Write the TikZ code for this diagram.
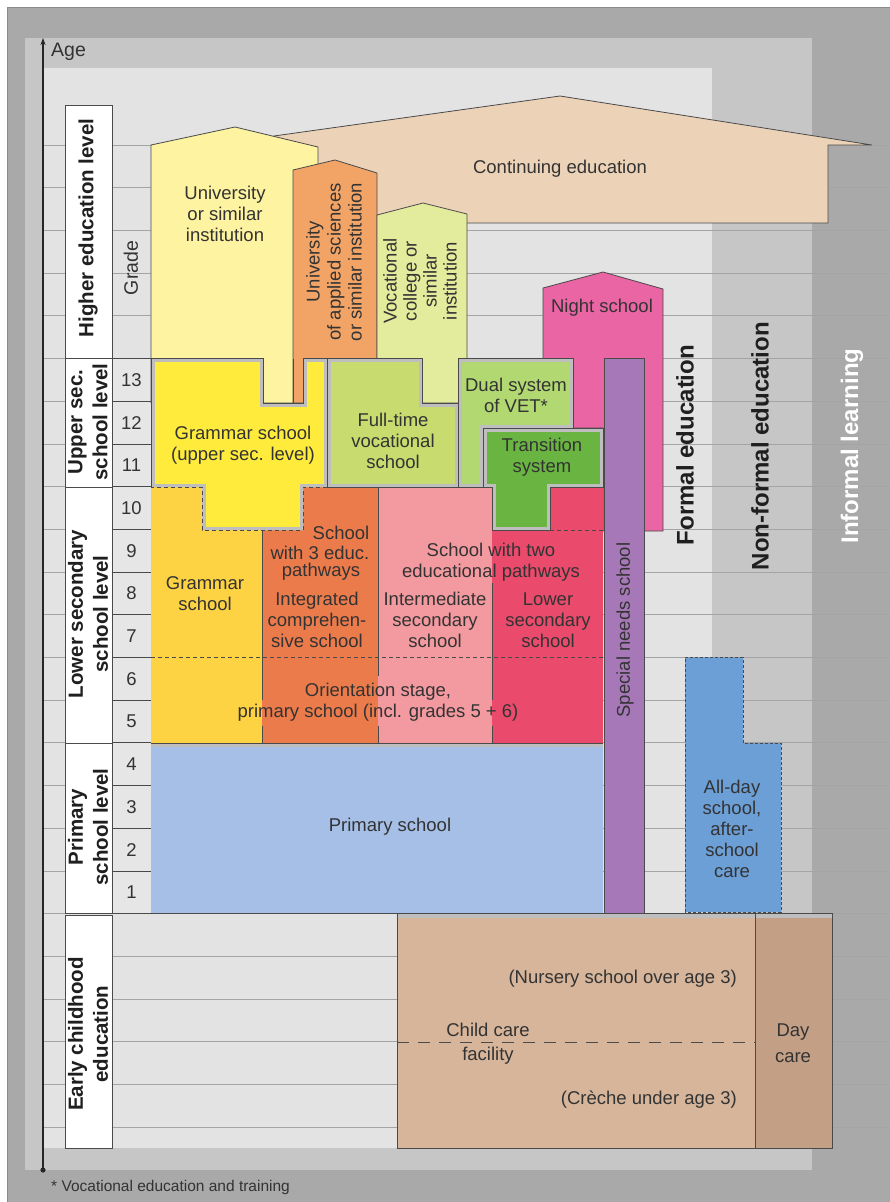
\documentclass[tikz,border=0pt]{standalone}
\usepackage{fontspec}
\setmainfont{Liberation Sans}
\usetikzlibrary{arrows.meta}
\definecolor{outerc}{HTML}{A9A9A9}
\definecolor{framec}{HTML}{8A8A8A}
\definecolor{midc}{HTML}{C6C6C6}
\definecolor{lightc}{HTML}{E3E3E3}
\definecolor{gridc}{HTML}{A4A4A4}
\definecolor{linec}{HTML}{4A4A4A}
\definecolor{bandc}{HTML}{BEBEBE}
\definecolor{txtc}{HTML}{333333}
\definecolor{gradec}{HTML}{E6E6E6}
\definecolor{contc}{HTML}{ECD3B8}
\definecolor{unic}{HTML}{FDF3A0}
\definecolor{fhc}{HTML}{F2A466}
\definecolor{vcc}{HTML}{E3EB9C}
\definecolor{nightc}{HTML}{EA65A3}
\definecolor{gupc}{HTML}{FEEB3C}
\definecolor{ftc}{HTML}{C8DB6E}
\definecolor{dualc}{HTML}{B2D872}
\definecolor{transc}{HTML}{6AB542}
\definecolor{glowc}{HTML}{FED343}
\definecolor{igsc}{HTML}{EC7B4B}
\definecolor{intc}{HTML}{F39AA0}
\definecolor{lowc}{HTML}{EA4A6B}
\definecolor{primc}{HTML}{A5BFE6}
\definecolor{specc}{HTML}{A778B8}
\definecolor{alldayc}{HTML}{6D9FD7}
\definecolor{childc}{HTML}{D6B59A}
\definecolor{dayc}{HTML}{C39F85}
\newcommand{\bandshape}[2]{%
  \fill[#1] #2;
  \begin{scope}\clip #2; \draw[bandc, line width=7pt] #2; \end{scope}}
\begin{document}
\begin{tikzpicture}[x=1pt,y=-1pt,
  txt/.style={font=\fontsize{18.5}{21}\selectfont, text=txtc, align=center, inner sep=0pt},
  lbl/.style={font=\bfseries\fontsize{20.5}{25}\selectfont, text=black!88, align=center, inner sep=0pt, rotate=90},
  big/.style={font=\bfseries\fontsize{24}{28}\selectfont, inner sep=0pt, rotate=90},
  outl/.style={draw=linec, line width=0.8pt},
  gridl/.style={draw=gridc, line width=0.7pt},
  dashl/.style={draw=linec, line width=0.8pt, dash pattern=on 4pt off 3pt},
  bandl/.style={draw=bandc, line width=4pt}]
\useasboundingbox (0,0) rectangle (889,1202);
% backgrounds
\fill[white] (0,0) rectangle (889,1202);
\draw[fill=outerc, draw=framec, line width=1pt] (7,7) rectangle (895,1210);
\fill[midc] (25,38) rectangle (812,1170);
\fill[lightc] (43,68) rectangle (712,1148);
% grid lines
\foreach \k in {0,...,23} \draw[gridl] (43,{145+42.7*\k}) -- (889,{145+42.7*\k});
% label boxes
\draw[outl, fill=white] (65,105) rectangle (112,358.5);
\draw[outl, fill=white] (65,358.5) rectangle (112,487);
\draw[outl, fill=white] (65,487) rectangle (112,743);
\draw[outl, fill=white] (65,743) rectangle (112,913);
\draw[outl, fill=white] (65,915) rectangle (112,1148);
% grade cells
\foreach \g [count=\i from 0] in {13,12,11,10,9,8,7,6,5,4,3,2,1} {
  \pgfmathsetmacro\ya{358.5+42.7*\i}
  \pgfmathsetmacro\yb{358.5+42.7*(\i+1)}
  \draw[outl, fill=gradec] (112,\ya) rectangle (151,\yb);
  \node[txt] (grade\g) at (131.5,{(\ya+\yb)/2}) {\g};
}
% higher education buildings
\draw[outl, fill=contc] (274,223) -- (274,136) -- (560,96) -- (872,145) -- (828,145) -- (828,223) -- cycle;
\draw[outl, fill=unic] (151,403) -- (151,145) -- (235,127) -- (318,147) -- (318,403) -- cycle;
\draw[outl, fill=fhc] (293,403) -- (293,170) -- (335,160) -- (377,173) -- (377,403) -- cycle;
\draw[outl, fill=vcc] (377,403) -- (377,215) -- (423,203) -- (467,214) -- (467,403) -- cycle;
\draw[outl, fill=nightc] (543,428) -- (543,288) -- (603,272) -- (663,289) -- (663,531) -- (603,531) -- (603,428) -- cycle;
% lower secondary
\fill[glowc] (151,487) rectangle (262,743);
\fill[igsc] (262,487) rectangle (378,743);
\fill[intc] (378,487) rectangle (492,743);
\fill[lowc] (492,487) rectangle (603,743);
\draw[outl] (262,530) -- (262,700) (262,726) -- (262,743);
\draw[outl] (378,487) -- (378,676) (378,726) -- (378,743);
\draw[outl] (492,583) -- (492,700) (492,726) -- (492,743);
\draw[dashl] (151,657.4) -- (603,657.4);
\draw[dashl] (550,530) -- (603,530);
% primary
\fill[primc] (151,743) rectangle (603,913);
\draw[bandl] (151,745) -- (603,745);
\draw[outl] (151,743) -- (603,743);
% upper secondary blocks
\def\pathGU{(151,358.5) -- (263,358.5) -- (263,403) -- (303,403) -- (303,358.5) -- (327,358.5) -- (327,487) -- (303,487) -- (303,530) -- (202,530) -- (202,487) -- (151,487) -- cycle}
\def\pathFT{(327,358.5) -- (422,358.5) -- (422,403) -- (458,403) -- (458,487) -- (327,487) -- cycle}
\def\pathDU{(458,358.5) -- (573,358.5) -- (573,428) -- (483,428) -- (483,487) -- (458,487) -- cycle}
\def\pathTR{(483,428) -- (603,428) -- (603,487) -- (550,487) -- (550,530) -- (492,530) -- (492,487) -- (483,487) -- cycle}
\bandshape{gupc}{\pathGU}
\bandshape{ftc}{\pathFT}
\bandshape{dualc}{\pathDU}
\bandshape{transc}{\pathTR}
\draw[outl] (151,487) -- (151,358.5) -- (263,358.5) -- (263,403) -- (303,403) -- (303,358.5) -- (327,358.5) -- (327,487);
\draw[dashl] (327,487) -- (303,487) -- (303,530) -- (202,530) -- (202,487) -- (151,487);
\draw[outl] (293,358.5) -- (293,403);
\draw[outl] \pathFT;
\draw[outl] \pathDU;
\draw[outl] \pathTR;
% special needs
\draw[outl, fill=specc] (604,358.5) rectangle (644,913);
% all-day school
\draw[fill=alldayc, draw=linec, line width=0.9pt, dash pattern=on 3pt off 2pt] (685,912) -- (685,657.4) -- (743,657.4) -- (743,743) -- (781,743) -- (781,912) -- cycle;
% early childhood
\fill[childc] (397,913.6) rectangle (755,1148);
\fill[dayc] (755,913.6) rectangle (832,1148);
\draw[bandl] (397,916) -- (832,916);
\draw[outl] (397,913.6) rectangle (755,1148);
\draw[outl] (755,913.6) rectangle (832,1148);
\draw[outl] (112,913.6) -- (832,913.6);
\draw[draw=linec, line width=0.9pt, dash pattern=on 12pt off 9pt] (397,1042) -- (755,1042);
% axis
\coordinate (axbot) at (43,1170);
\coordinate (axtop) at (43,38);
\draw[line width=1.1pt, black!85, -{Stealth[length=7pt,width=5pt]}] (axbot) -- (axtop);
\fill[black!85] (axbot) circle (2.6pt);
% texts
\node[txt, anchor=west, font=\fontsize{19.5}{22}\selectfont] (age) at (51,52) {Age};
\node[txt, anchor=west, font=\fontsize{15.5}{18}\selectfont] (foot) at (51,1187) {* Vocational education and training};
\node[lbl] (lhigh) at (88,228) {Higher education level};
\node[lbl] (lupper) at (88,422) {Upper sec.\\school level};
\node[lbl] (llower) at (88,614) {Lower secondary\\school level};
\node[lbl] (lprim) at (88,827) {Primary\\school level};
\node[lbl] (learly) at (88,1034) {Early childhood\\education};
\node[txt, rotate=90, font=\fontsize{19.5}{22}\selectfont] (grade) at (131,268) {Grade};
\node[txt] (tuni) at (225,214) {University\\or similar\\institution};
\node[txt] (tcont) at (560,169) {Continuing education};
\node[txt, rotate=90] (tfh) at (334,262) {University\\of applied sciences\\or similar institution};
\node[txt, rotate=90, font=\fontsize{18.5}{20}\selectfont] (tvc) at (420,281) {Vocational\\college or\\similar\\institution};
\node[txt] (tnight) at (602,308) {Night school};
\node[txt] (tgup) at (243,445) {Grammar school\\(upper sec. level)};
\node[txt] (tft) at (393,441) {Full-time\\vocational\\school};
\node[txt] (tdual) at (516,395) {Dual system\\of VET*};
\node[txt] (ttrans) at (542,457) {Transition\\system};
\node[txt] (tglow) at (205,594) {Grammar\\school};
\node[txt] (tsch3a) at (341,533) {School};
\node[txt] (tsch3b) at (320,553) {with 3 educ.};
\node[txt] (tsch3c) at (321,572) {pathways};
\node[txt] (tsch2) at (491,562) {School with two\\educational pathways};
\node[txt] (tigs) at (317,620) {Integrated\\comprehen-\\sive school};
\node[txt] (tint) at (435,620) {Intermediate\\secondary\\school};
\node[txt] (tlow) at (548,620) {Lower\\secondary\\school};
\node[txt] (torient) at (378,702) {Orientation stage,\\primary school (incl. grades 5 + 6)};
\node[txt] (tprim) at (390,827) {Primary school};
\node[txt, rotate=90] (tspec) at (625,630) {Special needs school};
\node[big, text=black!88] (tformal) at (685,445) {Formal education};
\node[big, text=black!88] (tnonformal) at (760,446) {Non-formal education};
\node[big, text=white] (tinformal) at (852,446) {Informal learning};
\node[txt] (tallday) at (732,829) {All-day\\school,\\after-\\school\\care};
\node[txt, anchor=east] (tnurs) at (737,979) {(Nursery school over age 3)};
\node[txt] (tchild) at (488,1030) {Child care};
\node[txt] (tfac) at (488,1056) {facility};
\node[txt, anchor=east] (tcreche) at (737,1100) {(Crèche under age 3)};
\node[txt, font=\fontsize{18.5}{26}\selectfont] (tday) at (793,1043) {Day\\care};
\end{tikzpicture}
\end{document}
